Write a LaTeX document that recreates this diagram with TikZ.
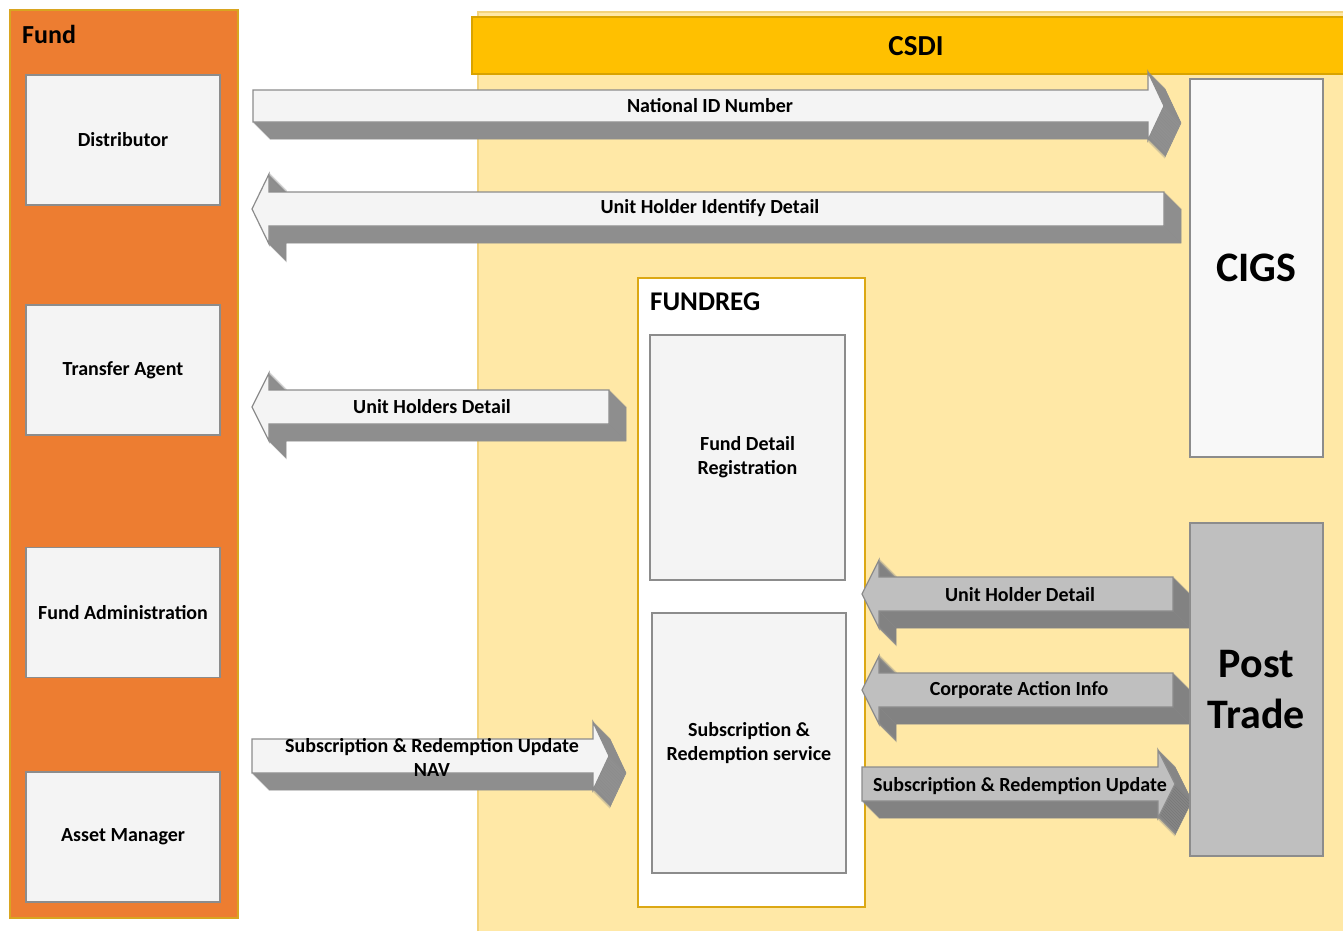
\documentclass[tikz,border=0pt]{standalone}
\usepackage{fontspec}
\setmainfont{Carlito}
\usetikzlibrary{positioning}

\definecolor{fundorange}{HTML}{ED7D31}
\definecolor{fundedge}{HTML}{D9A520}
\definecolor{csdibg}{HTML}{FFE8A6}
\definecolor{csdiedge}{HTML}{F3D37C}
\definecolor{csdihead}{HTML}{FFC000}
\definecolor{csdiheadedge}{HTML}{D9A300}
\definecolor{regedge}{HTML}{DCA814}
\definecolor{boxfill}{HTML}{F4F4F4}
\definecolor{boxedge}{HTML}{8C8C8C}
\definecolor{postfill}{HTML}{BFBFBF}
\definecolor{sidelight}{HTML}{939393}
\definecolor{sidedark}{HTML}{777777}

\tikzset{
  lbl/.style={font=\bfseries\fontsize{20}{24}\selectfont, align=center, inner sep=0pt},
  unit/.style={lbl, draw=boxedge, fill=boxfill, line width=1.5pt,
    minimum width=194pt, minimum height=130pt},
  sidepart/.style={draw=boxedge, line width=0.6pt},
  facepart/.style={draw=boxedge, line width=1.2pt}
}

% block arrow with depth: #1 face colour, #2 side colour, #3 outline
\newcommand{\solidarrow}[3]{%
  \foreach \s in {17,16,...,1}
    \filldraw[sidepart, fill=#2, shift={(\s,\s)}] #3;
  \filldraw[facepart, fill=#1] #3;
}

\begin{document}
\begin{tikzpicture}[x=1pt, y=-1pt]
  \useasboundingbox (0,0) rectangle (1343,930);

  % panels
  \draw[fill=csdibg, draw=csdiedge, line width=1.5pt] (478,12) rectangle (1360,945);
  \draw[fill=csdihead, draw=csdiheadedge, line width=1.5pt] (472,17) rectangle (1360,74);
  \node[font=\bfseries\fontsize{29}{31}\selectfont] (csdi) at (916,46) {CSDI};

  \draw[fill=fundorange, draw=fundedge, line width=1.2pt] (10,10) rectangle (238,918);
  \node[anchor=west, font=\bfseries\fontsize{26}{28}\selectfont, inner sep=0pt] (fund) at (22,34) {Fund};

  \node[unit] (distributor) at (123,140) {Distributor};
  \node[unit, below=98.5pt of distributor] (transfer) {Transfer Agent};
  \node[unit, below=111pt of transfer] (fundadmin) {Fund Administration};
  \node[unit, below=93pt of fundadmin] (assetmgr) {Asset Manager};

  \draw[fill=white, draw=regedge, line width=1.5pt] (638,278) rectangle (865,907);
  \node[anchor=west, font=\bfseries\fontsize{27}{29}\selectfont, inner sep=0pt] (fundreg) at (650,302) {FUNDREG};
  \node[unit, minimum width=195pt, minimum height=245pt] (fdr) at (747.5,457.5) {Fund Detail\\Registration};
  \node[unit, minimum width=194pt, minimum height=260pt] (srs) at (749,743) {Subscription \&\\Redemption service};

  % arrows
  \solidarrow{boxfill}{sidelight}{(253,90) -- (1148,90) -- (1148,72) -- (1164,106) -- (1148,140) -- (1148,122) -- (253,122) -- cycle}
  \node[lbl] (nid) at (710,106) {National ID Number};

  \solidarrow{boxfill}{sidelight}{(252,209) -- (269,174) -- (269,192) -- (1164,192) -- (1164,226) -- (269,226) -- (269,244) -- cycle}
  \node[lbl] (uhid) at (710,208) {Unit Holder Identify Detail};

  \solidarrow{boxfill}{sidelight}{(252,407) -- (269,373) -- (269,390) -- (609,390) -- (609,424) -- (269,424) -- (269,441) -- cycle}
  \node[lbl] (uhsd) at (432,407) {Unit Holders Detail};

  \solidarrow{boxfill}{sidelight}{(252,739) -- (593,739) -- (593,722) -- (609,756) -- (593,790) -- (593,773) -- (252,773) -- cycle}
  \node[lbl] (subnav) at (432,757) {Subscription \& Redemption Update\\NAV};

  \solidarrow{postfill}{sidedark}{(862,594) -- (879,560) -- (879,577) -- (1173,577) -- (1173,611) -- (879,611) -- (879,628) -- cycle}
  \node[lbl] (uhd) at (1020,595) {Unit Holder Detail};

  \solidarrow{postfill}{sidedark}{(862,690) -- (879,656) -- (879,673) -- (1173,673) -- (1173,707) -- (879,707) -- (879,724) -- cycle}
  \node[lbl] (cai) at (1019,690) {Corporate Action Info};

  \solidarrow{postfill}{sidedark}{(862,767) -- (1158,767) -- (1158,750) -- (1175,784) -- (1158,818) -- (1158,801) -- (862,801) -- cycle}
  \node[lbl] (subup) at (1020,786) {Subscription \& Redemption Update};

  % right hand systems
  \node[unit, minimum width=133pt, minimum height=378pt, fill=boxfill!60!white,
    font=\bfseries\fontsize{42}{50}\selectfont] (cigs) at (1256.5,268) {CIGS};
  \node[unit, minimum width=133pt, minimum height=333pt, fill=postfill,
    font=\bfseries\fontsize{42}{51}\selectfont] (posttrade) at (1256.5,689.5) {Post\\Trade};
\end{tikzpicture}
\end{document}
